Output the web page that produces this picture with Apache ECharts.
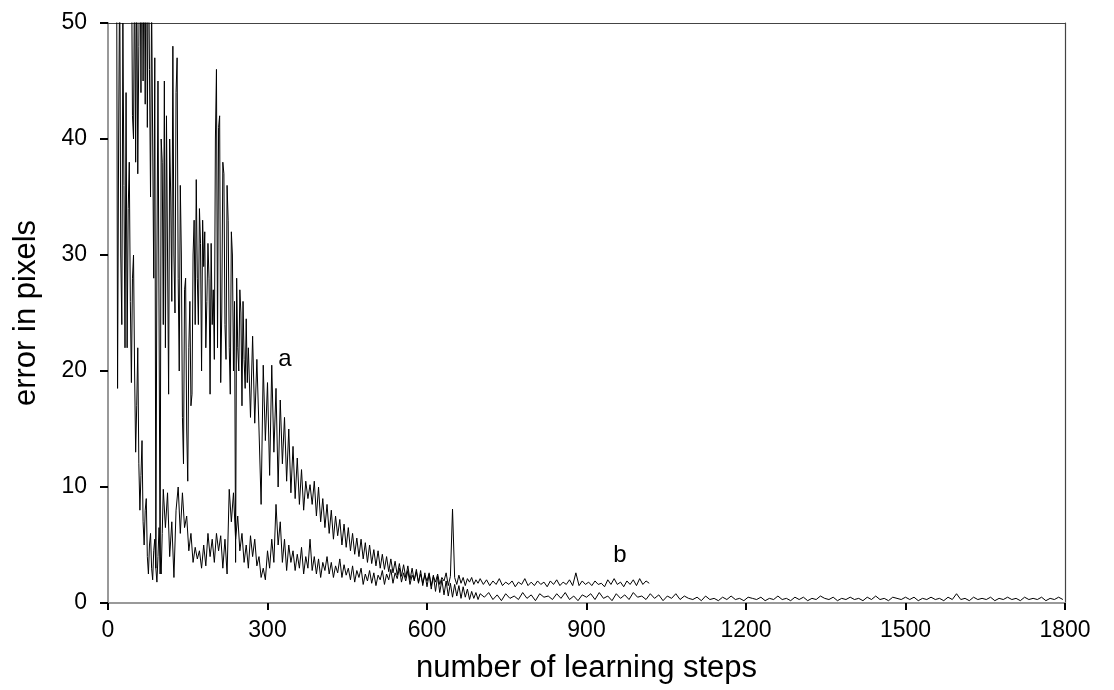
<!DOCTYPE html>
<html>
<head>
<meta charset="utf-8">
<script src="https://cdn.jsdelivr.net/npm/echarts@6/dist/echarts.min.js"></script>
<style>html,body{margin:0;padding:0;background:#fff}#c{width:1114px;height:690px}</style>
</head>
<body>
<div id="c"></div>
<script>
// tick labels
const xTicks = [0, 300, 600, 900, 1200, 1500, 1800];
const yTicks = [0, 10, 20, 30, 40, 50];

// Curve a (slow learner)
const aEarlyStart = 44, aEarlyStep = 2;
const aEarly = [
 58,42,40,56,38,55,37,48,60,
 44,62,45,58,43,62,41,58,46,35,
 52,40,28,47,3,30,45,25,2.5,40,
 38,24,45,22,42,30,18,40,35,26,
 48,30,25,44,47,28,20,36,30,16,
 12,27,28,15,10.5,22,26,17,18,30,
 33,24,36.5,28,24,34,31,20,33,29,
 32,22,26,31,28,18,31,24,27,21,
 40,46,22,41,42,19,25,38,37,24,
 21,36,33,22,18,32,30,20,26,3.5,
 28,22,20,27,25,17,26,21,18.5,24.5,19
];
const aMidStart = 264, aMidStep = 4;
const aMid = [
 22,16,23,15.5,21,15,8.5,20.5,14,19,
 11,20.5,13,18.5,10,17.5,12,16,10.5,15,
 9.5,13.5,9,12.5,8.5,11.5,8,10.5,9,10.2,
 8.5,10.5,7.5,10,7,9,6.5,8.5,6,8,
 5.5,7.5,5.8,7.2,5,6.8,4.8,6.5,4.5,6,
 4.2,5.6,4,5.5,3.8,5.2,3.5,5,3.4,4.6,
 3.2,4.5,3,4.2,2.9,4,2.7,3.8,2.6,3.6,
 2.4,3.4,2.3,3.3,2.2,3.2,2,3,1.9,2.9,
 1.7,2.8,1.5,2.6,1.4,2.5,1.2,2.4,1,2.3,
 0.9,2,0.7,1.9,0.6,1.7,0.5,1.6,0.6,1.5,
 0.4,1.4,0.5,1.2,0.3,1.0,0.4,0.9,0.3,0.8
];
const aLateStart = 708, aLateStep = 8;
const aLate = [
 0.5,0.9,0.3,0.7,0.2,0.8,0.4,0.6,0.3,0.9,
 0.4,0.7,0.2,0.8,0.5,0.6,0.3,0.8,0.4,0.9,
 0.3,0.6,0.2,0.7,0.5,0.8,0.3,0.9,0.4,0.6,
 0.2,0.8,0.4,0.7,0.3,0.9,0.5,0.6,0.3,0.8,
 0.4,0.7,0.2,0.6,0.4,0.8,0.3,0.6,0.4,0.3,
 0.5,0.2,0.6,0.3,0.4,0.2,0.5,0.3,0.6,0.3,
 0.4,0.2,0.5,0.4,0.3,0.5,0.2,0.4,0.3,0.6,
 0.3,0.4,0.2,0.5,0.3,0.5,0.2,0.4,0.3,0.6,
 0.4,0.3,0.5,0.2,0.4,0.3,0.5,0.3,0.4,0.2,
 0.5,0.3,0.6,0.3,0.4,0.2,0.5,0.4,0.3,0.5,
 0.3,0.5,0.2,0.4,0.3,0.5,0.3,0.4,0.2,0.5,
 0.3,0.8,0.3,0.4,0.2,0.5,0.3,0.4,0.3,0.5,
 0.2,0.4,0.3,0.5,0.3,0.4,0.2,0.5,0.3,0.4,
 0.3,0.5,0.2,0.4,0.3,0.5,0.3
];

// Curve b (fast learner)
const bEarlyStart = 16, bEarlyStep = 2;
const bEarly = [
 62,18.5,40,55,30,24,50,36,22,44,
 22,34,38,26,19,28,30,20,13,17,
 22,12,8,11,14,7,5,8,9,4,
 2.5,5,6,3,2,4.5,5.5,3,1.8,4,
 6.5,4,2.5,6
];
const bMidStart = 104, bMidStep = 4;
const bMid = [
 9.8,6.5,9.5,4,7,2.2,8,10,
 6,9.5,6.5,7.5,4.5,6,3.5,4.8,3.8,4.5,
 3,5,3.2,6,4,5.5,3.5,6,4.5,5.8,
 3,5.5,2.5,9.8,7,9.5,5.5,7.5,4.5,6,
 3.5,5,3,5.8,4,5.5,3.2,4,2.2,3,
 2,4.5,3,5.5,3.5,8.5,5,7,3.5,5.5,
 2.8,5,3.5,4.5,2.8,4.2,3,4.8,2.5,4,
 3,5.5,2.8,4,2.5,3.8,2.2,3.5,2.8,4,
 2.5,3.5,2.2,3.2,2.6,3.8,2.2,3.3,2.4,3,
 2,3.2,1.8,2.8,2.2,3,1.6,2.5,1.9,2.8,
 1.7,2.6,1.5,2.4,2,2.8,1.6,2.5,2,2.9,
 1.7,2.6,2.1,3,1.8,2.6,1.9,2.8,1.6,2.4,
 2,2.7,1.8,2.5,1.7,2.4,1.9,2.6,1.5,2.3,
 1.8,2.5,1.6,2.2,1.9,2.6,1.5,2.3,8.1,2.2,
 1.6,2.4,1.7,2.2,1.5,2.1,1.8,2.2,1.6,2,
 1.7,2.1
];
const bLateStart = 706, bLateStep = 6;
const bLate = [
 1.6,2.0,1.5,1.9,1.6,2.1,1.5,1.8,1.6,1.9,
 1.4,1.8,1.6,2.1,1.5,1.8,1.5,1.9,1.6,1.8,
 1.4,1.9,1.6,2.0,1.5,1.8,1.6,2.0,1.5,2.6,
 1.5,1.9,1.6,1.8,1.5,1.9,1.6,1.7,1.4,2.0,
 1.6,2.1,1.6,1.8,1.4,1.9,1.6,2.0,1.5,2.1,
 1.6,1.9,1.7
];

// annotation labels (data coordinates)
const labelText = ['a', 'b'];
const labelX = [333, 963];
const labelY = [21, 4.1];

function pairs(start, step, vals) {
  return vals.map((v, i) => [start + step * i, v]);
}
const seriesA = pairs(aEarlyStart, aEarlyStep, aEarly)
  .concat(pairs(aMidStart, aMidStep, aMid))
  .concat(pairs(aLateStart, aLateStep, aLate));
const seriesB = pairs(bEarlyStart, bEarlyStep, bEarly)
  .concat(pairs(bMidStart, bMidStep, bMid))
  .concat(pairs(bLateStart, bLateStep, bLate));

const font = 'Liberation Sans, Arial, sans-serif';
const chart = echarts.init(document.getElementById('c'), null, {renderer: 'canvas'});
chart.setOption({
  animation: false,
  backgroundColor: '#fff',
  grid: {left: 108, right: 49, top: 23, bottom: 87, containLabel: false},
  xAxis: [{
    type: 'value', min: xTicks[0], max: xTicks[xTicks.length - 1], interval: xTicks[1] - xTicks[0],
    name: 'number of learning steps', nameLocation: 'middle', nameGap: 50,
    nameTextStyle: {fontSize: 31, color: '#000', fontFamily: font},
    axisLine: {show: true, lineStyle: {color: '#999', width: 2}},
    axisTick: {show: true, inside: false, length: 7, lineStyle: {color: '#000', width: 2}},
    axisLabel: {color: '#000', fontSize: 23, fontFamily: font, margin: 16, formatter: v => String(v)},
    splitLine: {show: false}
  }, {
    type: 'value', position: 'top', min: 0, max: 1800,
    axisLine: {show: true, onZero: false, lineStyle: {color: '#444', width: 1.2}},
    axisTick: {show: false}, axisLabel: {show: false}, splitLine: {show: false}
  }],
  yAxis: [{
    type: 'value', min: yTicks[0], max: yTicks[yTicks.length - 1], interval: yTicks[1] - yTicks[0],
    name: 'error in pixels', nameLocation: 'middle', nameGap: 66, nameRotate: 90,
    nameTextStyle: {fontSize: 31, color: '#000', fontFamily: font},
    axisLine: {show: true, lineStyle: {color: '#999', width: 2}},
    axisTick: {show: true, inside: false, length: 8, lineStyle: {color: '#000', width: 2}},
    axisLabel: {color: '#000', fontSize: 23, fontFamily: font, margin: 21},
    splitLine: {show: false}
  }, {
    type: 'value', position: 'right', min: 0, max: 50,
    axisLine: {show: true, onZero: false, lineStyle: {color: '#444', width: 1.2}},
    axisTick: {show: false}, axisLabel: {show: false}, splitLine: {show: false}
  }],
  series: [{
    type: 'line', data: seriesA, showSymbol: false, symbol: 'none', clip: true,
    lineStyle: {color: '#000', width: 1},
    markPoint: {
      symbol: 'circle', symbolSize: 0,
      label: {show: true, position: 'inside', formatter: '{b}', fontSize: 24, color: '#000', fontFamily: font},
      data: labelText.map((t, i) => ({name: t, coord: [labelX[i], labelY[i]]}))
    }
  }, {
    type: 'line', data: seriesB, showSymbol: false, symbol: 'none', clip: true,
    lineStyle: {color: '#000', width: 1}
  }]
});
</script>
</body>
</html>
